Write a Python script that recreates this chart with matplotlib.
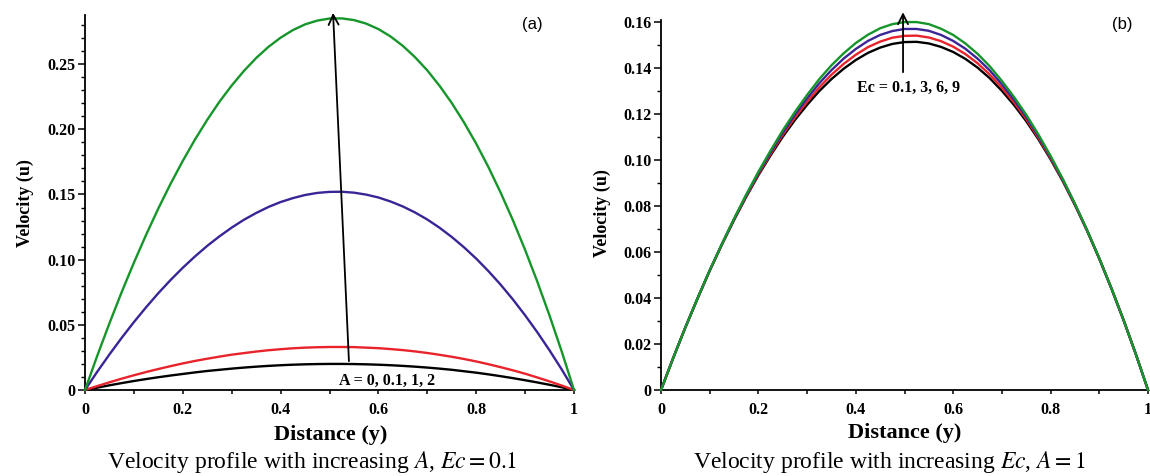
import numpy as np
import matplotlib
matplotlib.use('Agg')
import matplotlib.pyplot as plt
from matplotlib.ticker import MultipleLocator

plt.rcParams['font.family'] = ['Liberation Serif', 'DejaVu Serif']
plt.rcParams['mathtext.fontset'] = 'stix'

# distance grid shared by all curves (step 0.025)
y_dist = [0.0, 0.025, 0.05, 0.075, 0.10, 0.125, 0.15, 0.175, 0.20, 0.225, 0.25,
          0.275, 0.30, 0.325, 0.35, 0.375, 0.40, 0.425, 0.45, 0.475, 0.50,
          0.525, 0.55, 0.575, 0.60, 0.625, 0.65, 0.675, 0.70, 0.725, 0.75,
          0.775, 0.80, 0.825, 0.85, 0.875, 0.90, 0.925, 0.95, 0.975, 1.0]

# (a) increasing A, Ec = 0.1
u_a_A0 = [0, 0.0018, 0.0036, 0.0053, 0.0069, 0.0084, 0.0098, 0.0111, 0.0123, 0.0135, 0.0146,
          0.0155, 0.0164, 0.0172, 0.0179, 0.0185, 0.0190, 0.0194, 0.0197, 0.0199, 0.0200,
          0.0200, 0.0199, 0.0197, 0.0194, 0.0190, 0.0185, 0.0179, 0.0172, 0.0164, 0.0155,
          0.0144, 0.0133, 0.0120, 0.0106, 0.0091, 0.0075, 0.0058, 0.0040, 0.0021, 0]
u_a_A01 = [0, 0.0030, 0.0059, 0.0087, 0.0113, 0.0138, 0.0161, 0.0183, 0.0204, 0.0223, 0.0240,
           0.0256, 0.0271, 0.0283, 0.0295, 0.0305, 0.0313, 0.0320, 0.0325, 0.0328, 0.0330,
           0.0330, 0.0329, 0.0325, 0.0321, 0.0314, 0.0306, 0.0296, 0.0284, 0.0270, 0.0255,
           0.0238, 0.0219, 0.0198, 0.0175, 0.0151, 0.0125, 0.0096, 0.0066, 0.0034, 0]
u_a_A1 = [0, 0.0140, 0.0273, 0.0400, 0.0521, 0.0635, 0.0743, 0.0844, 0.0938, 0.1025, 0.1106,
          0.1179, 0.1246, 0.1306, 0.1358, 0.1404, 0.1442, 0.1472, 0.1496, 0.1512, 0.1520,
          0.1521, 0.1514, 0.1499, 0.1477, 0.1446, 0.1408, 0.1362, 0.1308, 0.1245, 0.1174,
          0.1095, 0.1008, 0.0912, 0.0808, 0.0695, 0.0573, 0.0443, 0.0304, 0.0157, 0]
u_a_A2 = [0, 0.0262, 0.0512, 0.0751, 0.0977, 0.1191, 0.1393, 0.1582, 0.1758, 0.1922, 0.2073,
          0.2212, 0.2336, 0.2448, 0.2547, 0.2632, 0.2703, 0.2761, 0.2805, 0.2834, 0.2850,
          0.2851, 0.2838, 0.2811, 0.2769, 0.2712, 0.2640, 0.2553, 0.2452, 0.2334, 0.2202,
          0.2053, 0.1890, 0.1710, 0.1514, 0.1303, 0.1075, 0.0831, 0.0571, 0.0294, 0]

# (b) increasing Ec, A = 1
u_b_Ec01 = [0, 0.0139, 0.0272, 0.0398, 0.0519, 0.0632, 0.0739, 0.0840, 0.0934, 0.1020, 0.1101,
            0.1174, 0.1240, 0.1300, 0.1352, 0.1397, 0.1435, 0.1466, 0.1489, 0.1505, 0.1513,
            0.1514, 0.1507, 0.1492, 0.1470, 0.1440, 0.1402, 0.1356, 0.1301, 0.1239, 0.1169,
            0.1090, 0.1003, 0.0908, 0.0804, 0.0692, 0.0571, 0.0441, 0.0303, 0.0156, 0]
u_b_Ec3 = [0, 0.0139, 0.0272, 0.0398, 0.0519, 0.0633, 0.0741, 0.0843, 0.0939, 0.1026, 0.1110,
           0.1185, 0.1253, 0.1316, 0.1371, 0.1418, 0.1458, 0.1491, 0.1515, 0.1532, 0.1540,
           0.1541, 0.1533, 0.1517, 0.1493, 0.1461, 0.1421, 0.1372, 0.1314, 0.1250, 0.1178,
           0.1096, 0.1008, 0.0911, 0.0806, 0.0693, 0.0571, 0.0441, 0.0303, 0.0156, 0]
u_b_Ec6 = [0, 0.0139, 0.0272, 0.0398, 0.0520, 0.0634, 0.0743, 0.0846, 0.0944, 0.1033, 0.1119,
           0.1197, 0.1268, 0.1334, 0.1391, 0.1441, 0.1483, 0.1518, 0.1544, 0.1561, 0.1570,
           0.1570, 0.1562, 0.1544, 0.1518, 0.1484, 0.1441, 0.1390, 0.1329, 0.1262, 0.1187,
           0.1103, 0.1013, 0.0914, 0.0808, 0.0694, 0.0572, 0.0441, 0.0303, 0.0156, 0]
u_b_Ec9 = [0, 0.0139, 0.0272, 0.0399, 0.0520, 0.0635, 0.0745, 0.0850, 0.0949, 0.1041, 0.1129,
           0.1209, 0.1283, 0.1352, 0.1412, 0.1464, 0.1509, 0.1545, 0.1573, 0.1591, 0.1600,
           0.1600, 0.1591, 0.1571, 0.1544, 0.1507, 0.1462, 0.1408, 0.1344, 0.1274, 0.1197,
           0.1111, 0.1018, 0.0918, 0.0810, 0.0695, 0.0572, 0.0442, 0.0303, 0.0156, 0]

x_ticks = [0, 0.2, 0.4, 0.6, 0.8, 1]
x_ticklabels = ['0', '0.2', '0.4', '0.6', '0.8', '1']
ya_ticks = [0, 0.05, 0.10, 0.15, 0.20, 0.25]
ya_ticklabels = ['0', '0.05', '0.10', '0.15', '0.20', '0.25']
yb_ticks = [0, 0.02, 0.04, 0.06, 0.08, 0.10, 0.12, 0.14, 0.16]
yb_ticklabels = ['0', '0.02', '0.04', '0.06', '0.08', '0.10', '0.12', '0.14', '0.16']

colors = ['black', '#e8232b', '#3b2596', '#16962a']

fig = plt.figure(figsize=(11.5, 4.76), dpi=100)
ax1 = fig.add_axes([85 / 1150, 1 - 390 / 476, 489 / 1150, 375 / 476])
ax2 = fig.add_axes([661 / 1150, 1 - 390 / 476, 487 / 1150, 370 / 476])


def style(ax, yticks, ylabels, ytop, yminor):
    for s in ['top', 'right']:
        ax.spines[s].set_visible(False)
    for s in ['left', 'bottom']:
        ax.spines[s].set_linewidth(1.3)
    ax.set_xlim(0, 1)
    ax.set_ylim(0, ytop)
    ax.set_xticks(x_ticks)
    ax.set_xticklabels(x_ticklabels)
    ax.set_yticks(yticks)
    ax.set_yticklabels(ylabels)
    ax.xaxis.set_minor_locator(MultipleLocator(0.1))
    ax.yaxis.set_minor_locator(MultipleLocator(yminor))
    ax.tick_params(axis='y', which='major', length=5, width=1.1, direction='out', labelsize=11.5, pad=2)
    ax.tick_params(axis='y', which='minor', length=3, width=1.0, direction='out')
    ax.tick_params(axis='x', which='both', length=3, width=1.1, direction='out', labelsize=11.5, pad=6)
    for lab in ax.get_xticklabels() + ax.get_yticklabels():
        lab.set_fontweight('bold')


series_a = [u_a_A0, u_a_A01, u_a_A1, u_a_A2]
series_b = [u_b_Ec01, u_b_Ec3, u_b_Ec6, u_b_Ec9]
for u, c in zip(series_a, colors):
    ax1.plot(y_dist, u, color=c, lw=1.7, clip_on=False, zorder=3)
for u, c in zip(series_b, colors):
    ax2.plot(y_dist, u, color=c, lw=1.7, clip_on=False, zorder=3)

style(ax1, ya_ticks, ya_ticklabels, 0.2877, 0.01)
style(ax2, yb_ticks, yb_ticklabels, 0.1609, 0.01)

# arrows and parameter labels
ax1.annotate('', xy=(0.507, 0.2915), xytext=(0.54, 0.020),
             arrowprops=dict(arrowstyle='->', lw=1.3, color='black', mutation_scale=18),
             annotation_clip=False)
ax1.text(0.618, 0.0069, 'A = 0, 0.1, 1, 2', ha='center', va='center',
         fontsize=11.5, fontweight='bold')
ax2.annotate('', xy=(0.497, 0.1655), xytext=(0.497, 0.137),
             arrowprops=dict(arrowstyle='->', lw=1.3, color='black', mutation_scale=18),
             annotation_clip=False)
ax2.text(0.509, 0.1313, 'Ec = 0.1, 3, 6, 9', ha='center', va='center',
         fontsize=11.5, fontweight='bold')

fig.text(532 / 1150, 1 - 25 / 476, '(a)', ha='center', va='center',
         fontsize=12, family=['Liberation Sans'])
fig.text(1122 / 1150, 1 - 25 / 476, '(b)', ha='center', va='center',
         fontsize=12, family=['Liberation Sans'])

# axis labels
fig.text(25 / 1150, 1 - 203 / 476, 'Velocity (u)', rotation=90, ha='center', va='center',
         fontsize=13, fontweight='bold')
fig.text(602 / 1150, 1 - 213 / 476, 'Velocity (u)', rotation=90, ha='center', va='center',
         fontsize=13, fontweight='bold')
fig.text(331 / 1150, 1 - 435 / 476, 'Distance (y)', ha='center', va='center',
         fontsize=16, fontweight='bold')
fig.text(905 / 1150, 1 - 433 / 476, 'Distance (y)', ha='center', va='center',
         fontsize=16, fontweight='bold')

# captions
fig.text(312 / 1150, 1 - 462 / 476, 'Velocity profile with increasing $A$, $Ec=0.1$',
         ha='center', va='center', fontsize=17)
fig.text(889 / 1150, 1 - 462 / 476, 'Velocity profile with increasing $Ec$, $A=1$',
         ha='center', va='center', fontsize=17)

fig.savefig('out.png', dpi=100)
